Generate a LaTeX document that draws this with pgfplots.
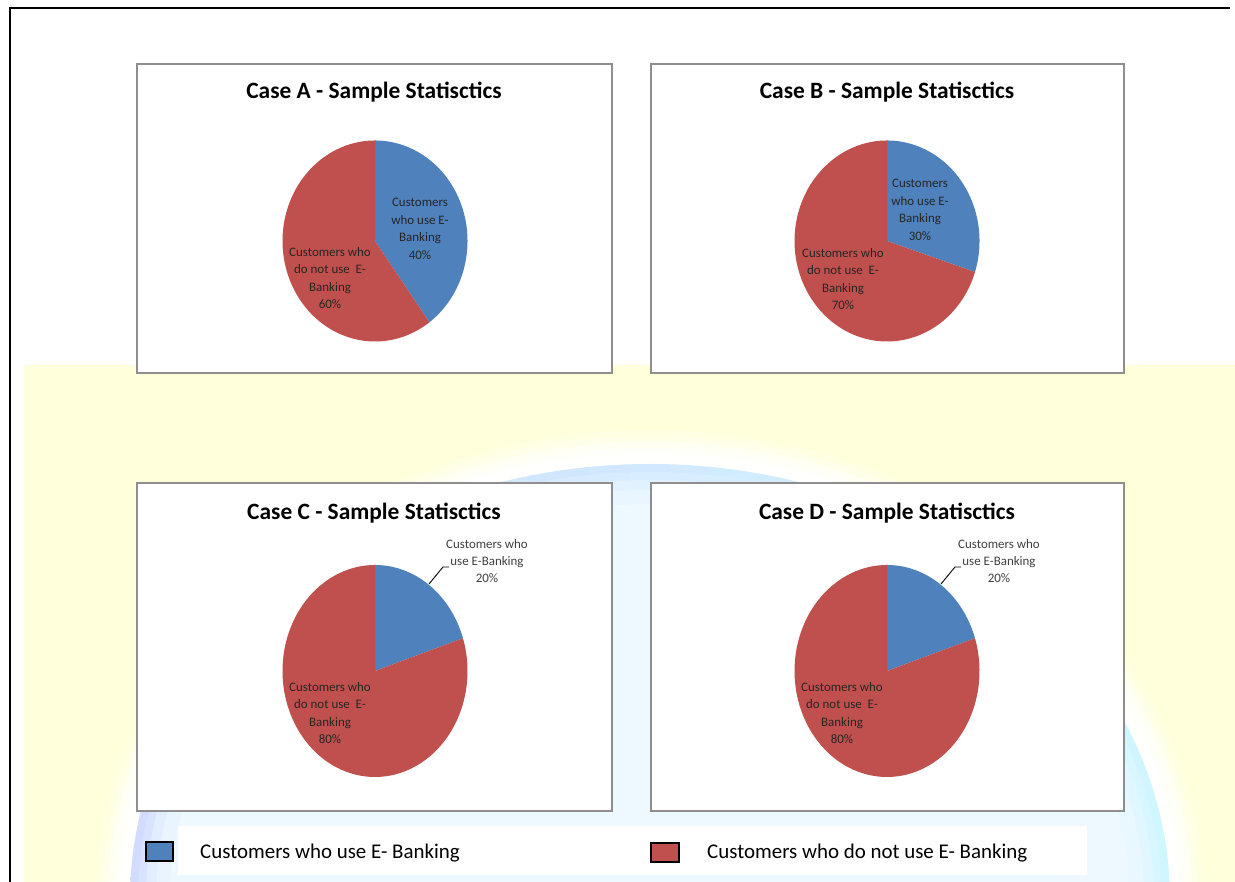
\documentclass[border=0pt]{standalone}
\usepackage{fontspec}
\setmainfont{Carlito}
\usepackage{pgfplots}
\usepackage{pgfplotstable}
\pgfplotsset{compat=1.18}

\definecolor{useblue}{HTML}{4F81BD}
\definecolor{nouse}{HTML}{C0504D}
\definecolor{panelgray}{HTML}{8E8E8E}
\definecolor{paper}{HTML}{FFFFDC}
\definecolor{washcyan}{HTML}{D0F6FF}
\definecolor{washlav}{HTML}{D2DCFF}
\definecolor{washpale}{HTML}{EEF9FF}
\definecolor{labtext}{HTML}{262626}

% share of customers (in %) per case
\pgfplotstableread{
case use notuse
A    40  60
B    30  70
C    20  80
D    20  80
}\ebanking

% #1 table row, #2/#3 centre of the pie (bp), #4 vertical radius (bp)
\newcommand{\ebankpie}[4]{%
  \pgfplotstablegetelem{#1}{use}\of\ebanking \edef\useval{\pgfplotsretval}%
  \pgfplotstablegetelem{#1}{notuse}\of\ebanking \edef\notval{\pgfplotsretval}%
  \pgfmathsetmacro{\cutang}{90-3.6*\useval}%
  \pgfmathsetmacro{\endang}{\cutang-3.6*\notval}%
  \begin{axis}[at={(#2bp,#3bp)}, anchor=center, hide axis, clip=false,
      x=92.5bp, y=#4bp, xmin=-1, xmax=1, ymin=-1, ymax=1, samples=120]
    \addplot[fill=useblue, draw=none, domain=\cutang:90]
      ({cos(x)},{sin(x)}) -- (0,0) -- cycle;
    \addplot[fill=nouse, draw=none, domain=\endang:\cutang]
      ({cos(x)},{sin(x)}) -- (0,0) -- cycle;
  \end{axis}}

\begin{document}
\begin{tikzpicture}[x=1bp, y=1bp,
    title/.style={font=\fontsize{23.5}{28}\selectfont\bfseries, anchor=base, inner sep=0pt},
    lab/.style={font=\fontsize{13}{17.5}\selectfont, align=center, text=labtext, inner sep=0pt},
    legtext/.style={font=\fontsize{21}{25}\selectfont, anchor=base west, inner sep=0pt},
    panel/.style={draw=panelgray, line width=1.3bp, fill=white}]
  \useasboundingbox (0,0) rectangle (1235,882);
  \fill[white] (-5,-5) rectangle (1240,887);

  % page background
  \fill[paper] (24,-5) rectangle (1240,517);
  \begin{scope}
    \clip (24,-5) rectangle (1240,517);
    \foreach \g/\o in {34/0.15, 28/0.3, 22/0.45, 16/0.6, 10/0.75, 4/0.9}
      \fill[white, opacity=\o] (650,-18) ellipse [x radius=520+\g, y radius=436+\g];
    \shade[left color=washlav, right color=washcyan] (650,-18) ellipse [x radius=520, y radius=436];
    \foreach \g/\o in {8/0.25, 16/0.45, 26/0.65, 40/0.85}
      \fill[washpale, opacity=\o] (650,-18) ellipse [x radius=520-\g, y radius=436-\g];
  \end{scope}

  % page frame
  \draw[black, line width=2.2bp] (10,-5) -- (10,874) -- (1230,874);

  % chart panels
  \draw[panel] (137,509) rectangle (612,818);
  \draw[panel] (651,509) rectangle (1124,818);
  \draw[panel] (137,71) rectangle (612,399);
  \draw[panel] (651,71) rectangle (1124,399);

  % Case A
  \ebankpie{0}{375}{641}{100.5}
  \node[title] at (374,783) {Case A - Sample Statisctics};
  \node[lab] at (420,653) {Customers\\who use E-\\Banking\\\useval\%};
  \node[lab] at (330,604) {Customers who\\do not use~ E-\\Banking\\\notval\%};

  % Case B
  \ebankpie{1}{887}{641}{100.5}
  \node[title] at (887,783) {Case B - Sample Statisctics};
  \node[lab] at (920,672) {Customers\\who use E-\\Banking\\\useval\%};
  \node[lab] at (843,603) {Customers who\\do not use~ E-\\Banking\\\notval\%};

  % Case C
  \ebankpie{2}{375}{211}{106}
  \node[title] at (374,362) {Case C - Sample Statisctics};
  \draw[black, line width=0.9bp] (429,298) -- (443,315) -- (449,315);
  \node[lab, text=black!75] at (487,321) {Customers who\\use E-Banking\\\useval\%};
  \node[lab] at (330,169) {Customers who\\do not use~ E-\\Banking\\\notval\%};

  % Case D
  \ebankpie{3}{887}{211}{106}
  \node[title] at (887,362) {Case D - Sample Statisctics};
  \draw[black, line width=0.9bp] (941,298) -- (955,315) -- (961,315);
  \node[lab, text=black!75] at (999,321) {Customers who\\use E-Banking\\\useval\%};
  \node[lab] at (842,169) {Customers who\\do not use~ E-\\Banking\\\notval\%};

  % legend
  \fill[white] (178,7) rectangle (1087,56);
  \draw[black, line width=1.6bp, fill=useblue] (146,21) rectangle (173,40);
  \node[legtext] at (200,23) {Customers who use E- Banking};
  \draw[black, line width=1.6bp, fill=nouse] (651,20) rectangle (679,39);
  \node[legtext] at (707,23) {Customers who do not use E- Banking};
\end{tikzpicture}
\end{document}
